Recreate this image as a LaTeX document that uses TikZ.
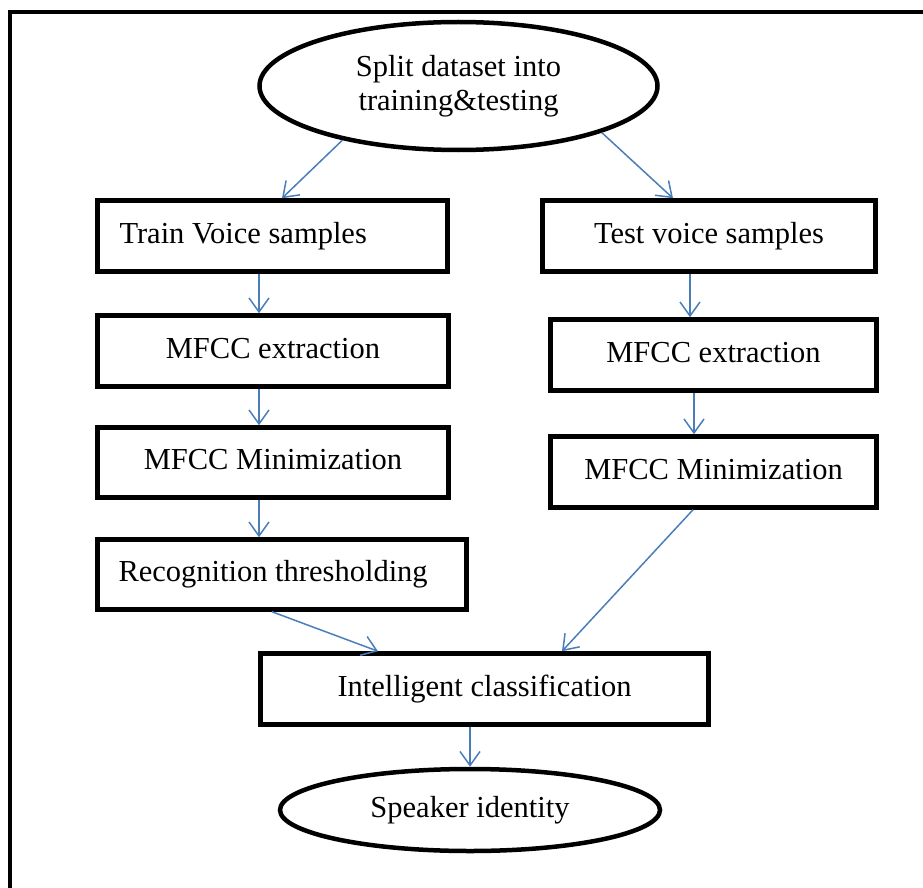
\documentclass[tikz,border=0pt]{standalone}
\usepackage{fontspec}
\setmainfont{Liberation Serif}
\usetikzlibrary{arrows.meta,shapes.geometric}
\definecolor{arrblue}{HTML}{4A7EBB}
\begin{document}
\begin{tikzpicture}[x=1pt,y=-1pt,
  txt/.style={font=\fontsize{30.5}{33}\selectfont},
  box/.style={draw, line width=4.5pt, rectangle, inner sep=0pt, txt, text height=21pt, text depth=7pt},
  oval/.style={draw, line width=4.5pt, ellipse, inner sep=0pt, txt, align=center},
  arr/.style={draw=arrblue, line width=1.5pt, -{Straight Barb[length=14pt,width=20pt,line width=1.5pt]}}]
\useasboundingbox (0,0) rectangle (923,888);
\clip (0,0) rectangle (923,888);
% outer frame
\draw[line width=4.5pt] (930,12) -- (10,12) -- (10,895);
% nodes
\node[oval, minimum width=398pt, minimum height=128pt] (split) at (458.5,86) {Split dataset into\\[1pt]training\&testing};
\node[box, minimum width=350pt, minimum height=71pt] (train) at (272.5,236) {\makebox[306pt][l]{Train Voice samples}};
\node[box, minimum width=351pt, minimum height=71pt] (trainext) at (273,351) {MFCC extraction};
\node[box, minimum width=351pt, minimum height=70pt] (trainmin) at (273,462.5) {MFCC Minimization};
\node[box, minimum width=369pt, minimum height=70pt] (recog) at (282,574.5) {\makebox[327pt][l]{Recognition thresholding}};
\node[box, minimum width=333pt, minimum height=71pt] (test) at (709,236) {Test voice samples};
\node[box, minimum width=326pt, minimum height=71pt] (testext) at (713.5,355) {MFCC extraction};
\node[box, minimum width=326pt, minimum height=71pt] (testmin) at (713.5,472) {MFCC Minimization};
\node[box, minimum width=448pt, minimum height=71pt] (intel) at (484.5,689) {Intelligent classification};
\node[oval, minimum width=380pt, minimum height=82pt] (speaker) at (470,810) {Speaker identity};
% helper x positions
\coordinate (xa) at (282,0);
\coordinate (xb) at (673,0);
\coordinate (xl) at (259,0);
\coordinate (xr1) at (690,0);
\coordinate (xr2) at (694,0);
\coordinate (xc1) at (272,0);
\coordinate (xc2) at (378,0);
\coordinate (xc3) at (693,0);
\coordinate (xc4) at (562,0);
% connectors
\draw[arr] (split.205) -- (train.north -| xa);
\draw[arr] (split.342) -- (test.north -| xb);
\draw[arr] (train.south -| xl) -- (trainext.north -| xl);
\draw[arr] (trainext.south -| xl) -- (trainmin.north -| xl);
\draw[arr] (trainmin.south -| xl) -- (recog.north -| xl);
\draw[arr] (test.south -| xr1) -- (testext.north -| xr1);
\draw[arr] (testext.south -| xr2) -- (testmin.north -| xr2);
\draw[arr] (recog.south -| xc1) -- (intel.north -| xc2);
\draw[arr] (testmin.south -| xc3) -- (intel.north -| xc4);
\draw[arr] (intel.south -| speaker.north) -- (speaker.north);
\end{tikzpicture}
\end{document}
